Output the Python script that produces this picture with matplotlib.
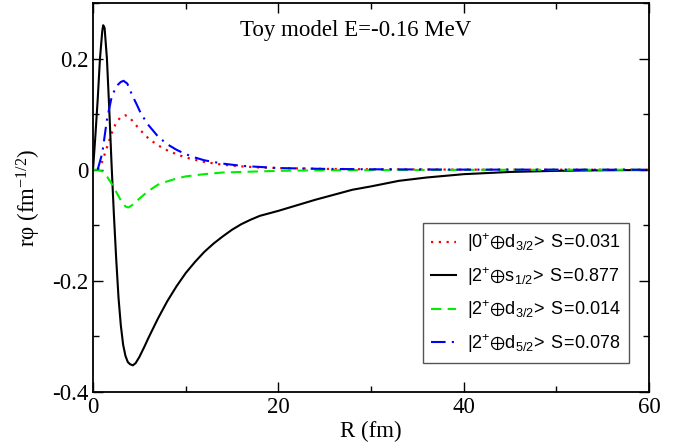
import matplotlib
matplotlib.use("Agg")
import matplotlib.pyplot as plt
from matplotlib.ticker import MultipleLocator, FuncFormatter

# ---- data ----
r_black = [0, 0.25, 0.5, 0.75, 1.0, 1.1, 1.25, 1.5, 1.75, 2.0, 2.25, 2.5, 2.75, 3.0, 3.25,
           3.5, 3.75, 4.0, 4.3, 4.6, 5, 5.5, 6, 7, 8, 9, 10, 11, 12, 13, 14, 15, 16, 17, 18,
           20, 22, 24, 26, 28, 30, 33, 36, 40, 45, 50, 55, 60]
v_black = [0, 0.06, 0.125, 0.2, 0.25, 0.26, 0.255, 0.2, 0.11, 0.01, -0.08, -0.16, -0.23,
           -0.28, -0.315, -0.335, -0.346, -0.35, -0.352, -0.348, -0.337, -0.32, -0.302,
           -0.268, -0.237, -0.21, -0.186, -0.166, -0.148, -0.133, -0.12, -0.108, -0.098,
           -0.09, -0.083, -0.074, -0.064, -0.054, -0.045, -0.036, -0.03, -0.02, -0.014,
           -0.008, -0.004, -0.002, -0.001, -0.0005]

r_blue = [0.5, 1.0, 1.5, 2.0, 2.5, 3.0, 3.3, 3.7, 4.2, 4.7, 5.2, 6, 7, 8, 9, 10, 11, 12,
          14, 16, 18, 20, 25, 30, 40, 60]
v_blue = [0, 0.03, 0.09, 0.13, 0.15, 0.158, 0.16, 0.155, 0.135, 0.118, 0.1, 0.08, 0.06,
          0.046, 0.036, 0.028, 0.022, 0.017, 0.011, 0.007, 0.005, 0.003, 0.0015, 0.0008,
          0.0002, 0]

r_red = [0.5, 1.0, 1.5, 2.0, 2.5, 3.0, 3.5, 4.0, 4.5, 5, 6, 7, 8, 9, 10, 11, 12, 14, 16,
         18, 20, 25, 30, 40, 60]
v_red = [0, 0.015, 0.04, 0.065, 0.085, 0.095, 0.098, 0.093, 0.083, 0.073, 0.056, 0.044,
         0.035, 0.028, 0.022, 0.018, 0.014, 0.009, 0.006, 0.004, 0.003, 0.0015, 0.0008,
         0.0002, 0]

r_green = [0, 0.5, 1.0, 1.5, 2.0, 2.5, 3.0, 3.5, 3.8, 4.2, 5, 6, 7, 8, 9, 10, 12, 14, 16,
           18, 20, 25, 30, 40, 60]
v_green = [0, 0, -0.003, -0.012, -0.025, -0.04, -0.055, -0.066, -0.068, -0.064, -0.052,
           -0.038, -0.027, -0.021, -0.016, -0.012, -0.008, -0.005, -0.004, -0.003, -0.002,
           -0.001, -0.0006, -0.0002, 0]

labels = [r"$\mathsf{|0^{+}}{\oplus}\mathsf{d_{3/2}\!>\ S\!=\!0.031}$",
          r"$\mathsf{|2^{+}}{\oplus}\mathsf{s_{1/2}\!>\ S\!=\!0.877}$",
          r"$\mathsf{|2^{+}}{\oplus}\mathsf{d_{3/2}\!>\ S\!=\!0.014}$",
          r"$\mathsf{|2^{+}}{\oplus}\mathsf{d_{5/2}\!>\ S\!=\!0.078}$"]
title_text = "Toy model E=-0.16 MeV"
x_label = "R (fm)"
y_label = "r\u03c6 (fm$^{-1/2}$)"

plt.rcParams['font.family'] = ['Liberation Serif', 'DejaVu Serif']
plt.rcParams['mathtext.fontset'] = 'custom'
plt.rcParams['mathtext.rm'] = 'Liberation Serif'
plt.rcParams['mathtext.it'] = 'Liberation Serif:italic'
plt.rcParams['mathtext.sf'] = 'Liberation Sans'
plt.rcParams['mathtext.fallback'] = 'stixsans'

fig = plt.figure(figsize=(6.87, 4.44), dpi=100)
ax = fig.add_axes([0.1354, 0.1171, 0.8093, 0.8761])

ax.plot(r_red, v_red, color='red', linestyle=(0, (1, 2.5)), lw=1.6, label=labels[0])
ax.plot(r_black, v_black, color='black', linestyle='-', lw=1.5, label=labels[1])
ax.plot(r_green, v_green, color='#00ee00', linestyle=(0, (5, 3)), lw=1.5, label=labels[2])
ax.plot(r_blue, v_blue, color='blue', linestyle=(0, (7, 3, 1, 3)), lw=1.5, label=labels[3])

ax.set_xlim(0, 60)
ax.set_ylim(-0.4, 0.3)
ax.xaxis.set_major_locator(MultipleLocator(20))
ax.xaxis.set_minor_locator(MultipleLocator(10))
ax.yaxis.set_major_locator(MultipleLocator(0.2))
ax.yaxis.set_minor_locator(MultipleLocator(0.1))

def fmt(v, pos):
    if abs(v) < 1e-9:
        return "0"
    return "%g" % round(v, 3)
ax.yaxis.set_major_formatter(FuncFormatter(fmt))
ax.xaxis.set_major_formatter(FuncFormatter(fmt))

ax.tick_params(which='both', direction='in', top=True, right=True, labelsize=16.5, width=1.0)
ax.tick_params(which='major', length=7)
ax.tick_params(which='minor', length=4)
for s in ax.spines.values():
    s.set_linewidth(1.3)

ax.set_xlabel(x_label, fontsize=16.5, labelpad=2)
ax.set_ylabel(y_label, fontsize=16.5, labelpad=6)

ax.text(0.473, 0.93, title_text, transform=ax.transAxes, ha='center', va='center', fontsize=16.5)

leg = ax.legend(loc='lower right', bbox_to_anchor=(0.964, 0.075), borderaxespad=0,
                fancybox=False, edgecolor='#555555', framealpha=1,
                prop={'size': 13},
                handlelength=1.4, labelspacing=0.6, borderpad=0.45, handletextpad=0.6)
leg.get_frame().set_linewidth(1.0)

fig.savefig("out.png", dpi=100)
